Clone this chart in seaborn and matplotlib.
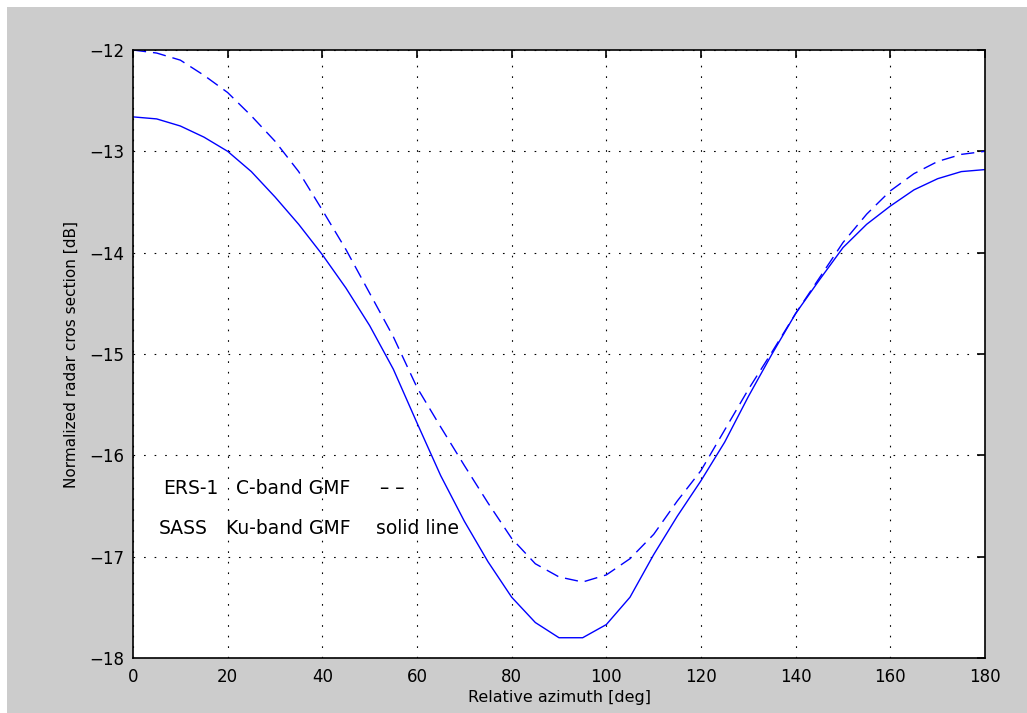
import numpy as np
import pandas as pd
import matplotlib
matplotlib.use("Agg")
import matplotlib.pyplot as plt
import seaborn as sns
from matplotlib.patches import Rectangle

# Relative azimuth (deg)
azimuth = [0, 5, 10, 15, 20, 25, 30, 35, 40, 45, 50, 55, 60, 65, 70, 75, 80, 85, 90,
           95, 100, 105, 110, 115, 120, 125, 130, 135, 140, 145, 150, 155, 160, 165,
           170, 175, 180]

# ERS-1 C-band GMF (dashed)
ers1_cband = [-12.00, -12.03, -12.10, -12.25, -12.42, -12.65, -12.90, -13.20, -13.58,
              -13.97, -14.40, -14.83, -15.33, -15.72, -16.10, -16.47, -16.82, -17.07,
              -17.20, -17.25, -17.18, -17.02, -16.78, -16.45, -16.15, -15.75, -15.35,
              -14.98, -14.60, -14.25, -13.90, -13.62, -13.39, -13.22, -13.10, -13.03,
              -13.00]

# SASS Ku-band GMF (solid)
sass_kuband = [-12.66, -12.68, -12.75, -12.86, -13.00, -13.20, -13.45, -13.72, -14.02,
               -14.35, -14.72, -15.15, -15.68, -16.20, -16.65, -17.05, -17.40, -17.65,
               -17.80, -17.80, -17.67, -17.40, -16.98, -16.60, -16.25, -15.87, -15.42,
               -15.00, -14.60, -14.27, -13.95, -13.72, -13.54, -13.38, -13.27, -13.20,
               -13.18]

xticks = [0, 20, 40, 60, 80, 100, 120, 140, 160, 180]
yticks = [-18, -17, -16, -15, -14, -13, -12]

# annotation words: (x, y, text)
notes = [(6.3, -16.33, "ERS-1"), (21.8, -16.33, "C-band GMF"), (52.2, -16.33, "\u2013 \u2013"),
         (5.5, -16.72, "SASS"), (19.6, -16.72, "Ku-band GMF"), (51.3, -16.72, "solid line")]

df = pd.DataFrame({"azimuth": azimuth, "ers1": ers1_cband, "sass": sass_kuband})

sns.set_style("white")
plt.rcParams["font.family"] = ["DejaVu Sans"]
plt.rcParams["text.color"] = "black"
plt.rcParams["axes.labelcolor"] = "black"

W, H = 1027, 713
fig = plt.figure(figsize=(W / 100, H / 100), dpi=100, facecolor="#cccccc")
# thin white border on the left and top edges
fig.patches.append(Rectangle((0, 0), 7 / W, 1, transform=fig.transFigure,
                             facecolor="white", edgecolor="none", zorder=-10))
fig.patches.append(Rectangle((0, 1 - 7 / H), 1, 7 / H, transform=fig.transFigure,
                             facecolor="white", edgecolor="none", zorder=-10))
ax = fig.add_axes([133 / W, 55 / H, 852 / W, 608 / H])
ax.set_facecolor("white")

sns.lineplot(data=df, x="azimuth", y="ers1", ax=ax, color="#0000ff", linewidth=1.0,
             linestyle=(0, (9.5, 5)))
sns.lineplot(data=df, x="azimuth", y="sass", ax=ax, color="#0000ff", linewidth=1.0)

ax.set_xlim(0, 180)
ax.set_ylim(-18, -12)
ax.set_xticks(xticks)
ax.set_yticks(yticks)
ax.set_xticklabels([f"{t}" for t in xticks])
ax.set_yticklabels([f"\u2212{abs(t)}" for t in yticks])
ax.tick_params(direction="in", length=6, width=1.2, top=True, right=True,
               labelsize=12, colors="black")
ax.tick_params(axis="x", pad=7)
ax.tick_params(axis="y", pad=6)
ax.grid(True, color="black", linestyle=(0, (1.5, 8)), linewidth=0.8)
for s in ax.spines.values():
    s.set_visible(True)
    s.set_color("black")
    s.set_linewidth(1.2)

ax.set_xlabel("Relative azimuth [deg]", fontsize=11.5, labelpad=3)
ax.set_ylabel("Normalized radar cros section [dB]", fontsize=11, labelpad=8)

for x, y, t in notes:
    ax.text(x, y, t, fontsize=13.5, va="center", color="black")

fig.savefig("out.png", dpi=100, facecolor=fig.get_facecolor())
